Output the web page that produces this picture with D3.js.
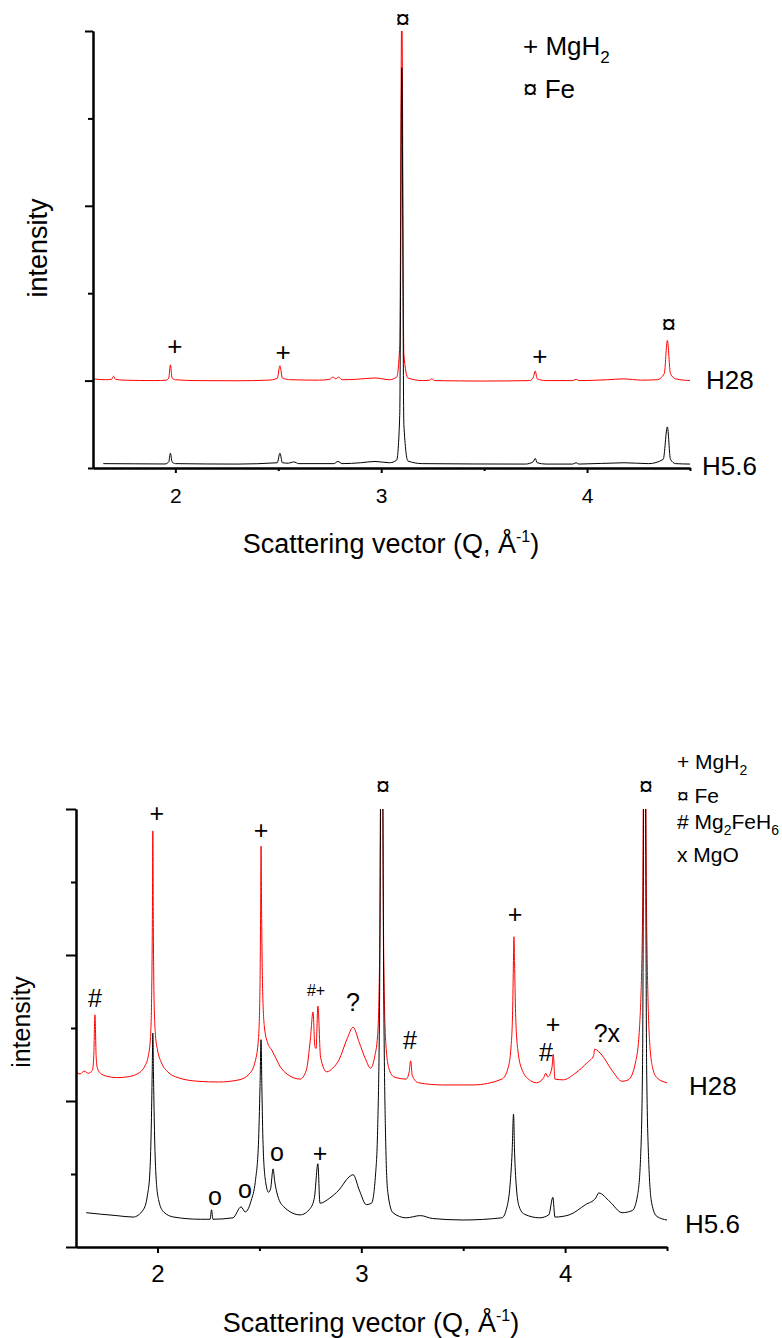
<!DOCTYPE html>
<html>
<head>
<meta charset="utf-8">
<script src="https://cdn.jsdelivr.net/npm/d3@7"></script>
<style>
  body { margin: 0; background: #fff; }
  svg { display: block; font-family: "Liberation Sans", Arial, sans-serif; }
</style>
</head>
<body>
<svg width="782" height="1338"></svg>
<script>
// ---- data: [Q (1/Å), intensity (offset, arb. units)] ----
const h28Top = [
  [1.60,1.02],[1.66,1.01],[1.69,1.015],[1.70,1.05],[1.71,1.015],[1.75,1.005],[1.90,1.0],
  [1.955,1.005],[1.968,1.03],[1.976,1.18],[1.984,1.03],[2.00,1.01],[2.10,1.0],[2.30,0.998],
  [2.45,1.005],[2.495,1.025],[2.508,1.17],[2.52,1.03],[2.56,1.01],[2.70,1.005],[2.75,1.015],
  [2.765,1.04],[2.78,1.02],[2.793,1.04],[2.81,1.01],[2.88,1.015],[2.97,1.03],[3.04,1.01],
  [3.075,1.04],[3.09,1.4],[3.10,5.3],[3.11,1.3],[3.13,1.03],[3.20,1.0],[3.235,1.005],
  [3.245,1.02],[3.26,1.0],[3.50,0.995],[3.72,1.0],[3.738,1.03],[3.748,1.11],[3.758,1.02],
  [3.80,1.0],[3.93,1.0],[3.947,1.015],[3.96,1.0],[4.10,1.01],[4.18,1.02],[4.26,1.005],
  [4.34,1.01],[4.375,1.08],[4.39,1.46],[4.405,1.08],[4.43,1.02],[4.50,1.0]
];
const h56Top = [
  [1.65,0.05],[1.80,0.048],[1.95,0.046],[1.968,0.07],[1.976,0.17],[1.984,0.07],[2.00,0.05],
  [2.30,0.045],[2.495,0.06],[2.508,0.17],[2.52,0.06],[2.55,0.055],[2.575,0.07],[2.60,0.05],
  [2.77,0.05],[2.79,0.075],[2.81,0.05],[2.90,0.06],[2.97,0.075],[3.04,0.06],[3.075,0.09],
  [3.09,0.6],[3.10,4.58],[3.11,0.5],[3.13,0.08],[3.20,0.05],[3.70,0.045],[3.738,0.07],
  [3.748,0.11],[3.758,0.06],[3.80,0.045],[3.93,0.045],[3.947,0.06],[3.96,0.045],[4.18,0.06],
  [4.30,0.05],[4.37,0.1],[4.39,0.47],[4.405,0.1],[4.43,0.05],[4.50,0.045]
];
const h28Bottom = [
  [1.60,2.40],[1.62,2.37],[1.64,2.41],[1.66,2.38],[1.68,2.42],[1.687,2.6],[1.693,3.18],
  [1.699,2.6],[1.705,2.45],[1.72,2.38],[1.75,2.34],[1.80,2.32],[1.85,2.33],[1.90,2.37],
  [1.94,2.49],[1.955,2.62],[1.965,2.85],[1.971,3.4],[1.975,4.6],[1.977,5.70],[1.979,4.6],
  [1.983,3.4],[1.99,2.9],[2.00,2.7],[2.02,2.52],[2.05,2.40],[2.10,2.32],[2.20,2.27],
  [2.30,2.26],[2.40,2.29],[2.45,2.37],[2.48,2.55],[2.495,2.85],[2.502,3.4],[2.506,4.6],
  [2.508,5.49],[2.511,4.5],[2.516,3.5],[2.525,3.0],[2.54,2.80],[2.56,2.70],[2.575,2.62],
  [2.60,2.48],[2.64,2.36],[2.70,2.30],[2.73,2.42],[2.75,2.85],[2.763,3.22],[2.772,2.75],
  [2.778,2.72],[2.787,3.30],[2.80,2.60],[2.83,2.40],[2.86,2.45],[2.89,2.56],[2.93,2.85],
  [2.96,3.01],[2.99,2.80],[3.02,2.58],[3.045,2.45],[3.065,2.6],[3.08,2.9],[3.09,4.0],
  [3.10,9.0],[3.11,4.0],[3.12,2.8],[3.135,2.45],[3.16,2.33],[3.22,2.30],[3.235,2.40],
  [3.242,2.55],[3.25,2.35],[3.28,2.25],[3.40,2.22],[3.55,2.22],[3.69,2.30],[3.72,2.45],
  [3.735,2.75],[3.743,3.3],[3.747,4.0],[3.749,4.25],[3.752,3.9],[3.757,3.2],[3.768,2.7],
  [3.79,2.42],[3.83,2.28],[3.86,2.25],[3.895,2.32],[3.905,2.38],[3.915,2.33],[3.935,2.45],
  [3.942,2.64],[3.95,2.30],[3.99,2.29],[4.05,2.38],[4.11,2.53],[4.14,2.62],[4.145,2.71],
  [4.18,2.63],[4.23,2.42],[4.28,2.27],[4.31,2.29],[4.345,2.52],[4.365,3.0],[4.38,4.5],
  [4.39,9.0],[4.40,4.5],[4.415,2.8],[4.43,2.45],[4.45,2.32],[4.50,2.25]
];
const h56Bottom = [
  [1.65,0.47],[1.72,0.45],[1.80,0.43],[1.88,0.41],[1.93,0.51],[1.95,0.70],[1.962,1.0],
  [1.969,1.6],[1.974,2.4],[1.977,2.93],[1.980,2.4],[1.985,1.6],[1.992,1.0],[2.005,0.65],
  [2.03,0.48],[2.08,0.41],[2.21,0.38],[2.258,0.38],[2.265,0.51],[2.272,0.38],[2.37,0.40],
  [2.41,0.55],[2.43,0.48],[2.46,0.64],[2.48,0.9],[2.495,1.4],[2.503,2.2],[2.508,2.84],
  [2.512,2.2],[2.518,1.4],[2.53,0.9],[2.545,0.75],[2.555,0.80],[2.567,1.07],[2.575,0.9],
  [2.59,0.70],[2.62,0.55],[2.70,0.44],[2.75,0.53],[2.77,0.68],[2.787,1.14],[2.797,0.60],
  [2.845,0.67],[2.89,0.78],[2.94,0.96],[2.96,0.99],[2.99,0.78],[3.025,0.58],[3.05,0.60],
  [3.07,1.0],[3.08,1.6],[3.09,3.5],[3.10,9.0],[3.11,3.5],[3.12,1.4],[3.13,0.75],[3.155,0.47],
  [3.22,0.40],[3.29,0.43],[3.35,0.39],[3.50,0.37],[3.69,0.40],[3.715,0.55],[3.73,0.85],
  [3.74,1.3],[3.747,1.82],[3.752,1.3],[3.76,0.85],[3.775,0.55],[3.80,0.45],[3.875,0.40],
  [3.92,0.44],[3.94,0.68],[3.95,0.41],[4.02,0.44],[4.10,0.58],[4.15,0.67],[4.165,0.74],
  [4.22,0.62],[4.28,0.47],[4.33,0.50],[4.355,0.7],[4.37,1.2],[4.38,2.5],[4.39,9.0],
  [4.40,2.5],[4.41,1.2],[4.425,0.6],[4.45,0.42],[4.50,0.37]
];

const qDomain = [1.6, 4.5];
const qMajor = [2, 3, 4];
const qMinor = [2.5, 3.5, 4.5];
const topYDomain = [0, 5];
const topYMajor = [1, 3, 5];
const topYMinor = [0, 2, 4];
const botYDomain = [0, 6];
const botYMajor = [0, 2, 4, 6];
const botYMinor = [1, 3, 5];

// peak marks: [text, Q, intensity]
const topMarks = [["¤",3.105,5.14],["+",1.998,1.40],["+",2.523,1.33],["+",3.771,1.28],["¤",4.397,1.65]];
const botMarks = [
  ["#",1.693,3.41],["+",1.997,5.95],["+",2.508,5.71],["?",2.959,3.36],["¤",3.106,6.32],
  ["#",3.239,2.84],["+",3.754,4.56],["#",3.906,2.67],["+",3.941,3.05],["?x",4.205,2.93],
  ["¤",4.397,6.32],["o",2.282,0.67],["o",2.429,0.77],["o",2.586,1.27],["+",2.797,1.29]
];
const botSmallMarks = [["#+",2.778,3.52]];

const topLegend = [["+ MgH", "2", ""], ["¤ Fe", "", ""]];
const botLegend = [["+ MgH", "2", ""], ["¤ Fe", "", ""], ["# Mg", "2", "FeH", "6"], ["x MgO", "", ""]];

const svg = d3.select("svg");

function panel(o) {
  const x = d3.scaleLinear().domain(qDomain).range([o.left, o.right]);
  const y = d3.scaleLinear().domain(o.yDomain).range([o.bottom, o.top]);
  const g = svg.append("g");

  g.append("clipPath").attr("id", o.id)
    .append("rect")
    .attr("x", o.left).attr("y", o.top)
    .attr("width", o.right - o.left).attr("height", o.bottom - o.top);

  const line = d3.line().x(d => x(d[0])).y(d => y(d[1])).curve(d3.curveMonotoneX);
  o.series.forEach(s => {
    g.append("path")
      .datum(s.data)
      .attr("clip-path", `url(#${o.id})`)
      .attr("fill", "none")
      .attr("stroke", s.color)
      .attr("stroke-width", 1)
      .attr("d", line);
  });

  // axes
  const ax = (axis, tr) => {
    const a = g.append("g").attr("transform", tr).call(axis);
    a.selectAll("path,line").attr("stroke", "#000").attr("stroke-width", 2);
    return a;
  };
  ax(d3.axisLeft(y).tickValues(o.yMajor).tickSize(o.yMajorLen).tickSizeOuter(0).tickFormat(""),
     `translate(${o.left},0)`);
  ax(d3.axisLeft(y).tickValues(o.yMinor).tickSize(5).tickSizeOuter(0).tickFormat(""),
     `translate(${o.left},0)`);
  ax(d3.axisBottom(x).tickValues(qMinor).tickSize(o.xMinorLen).tickSizeOuter(0).tickFormat(""),
     `translate(0,${o.bottom})`);
  const xa = ax(d3.axisBottom(x).tickValues(qMajor).tickSize(o.xMajorLen).tickSizeOuter(0)
     .tickFormat(d3.format("d")), `translate(0,${o.bottom})`);
  xa.selectAll("text").attr("y", o.tickLabelDy).attr("dy", 0)
    .attr("fill", "#000").style("font-size", o.tickFont + "px").style("font-family", "inherit");

  // axis titles
  g.append("text")
    .attr("transform", `translate(${o.yTitleX},${o.yTitleY}) rotate(-90)`)
    .attr("text-anchor", "middle").style("font-size", o.yTitleFont + "px")
    .text("intensity");
  const xt = g.append("text")
    .attr("x", o.xTitleX).attr("y", o.xTitleY)
    .attr("text-anchor", "middle").style("font-size", "27px");
  xt.append("tspan").text("Scattering vector (Q, Å");
  xt.append("tspan").attr("dy", -11).style("font-size", "16px").text("-1");
  xt.append("tspan").attr("dy", 11).text(")");

  // peak marks
  o.marks.forEach(m => {
    g.append("text").attr("x", x(m[1])).attr("y", y(m[2])).attr("dy", m[0] === "o" ? "0.27em" : "0.36em")
      .attr("text-anchor", "middle").style("font-size", o.markFont + "px").text(m[0]);
  });
  (o.smallMarks || []).forEach(m => {
    g.append("text").attr("x", x(m[1])).attr("y", y(m[2])).attr("dy", "0.36em")
      .attr("text-anchor", "middle").style("font-size", "16px").text(m[0]);
  });

  // sample names
  o.names.forEach(n => {
    g.append("text").attr("x", n[1]).attr("y", n[2]).style("font-size", o.nameFont + "px").text(n[0]);
  });

  // legend
  o.legend.forEach((l, i) => {
    const t = g.append("text").attr("x", o.legendX).attr("y", o.legendY[i])
      .style("font-size", o.legendFont + "px");
    t.append("tspan").text(l[0]);
    if (l[1]) t.append("tspan").attr("dy", o.subDy).style("font-size", o.subFont + "px").text(l[1]);
    if (l[2]) t.append("tspan").attr("dy", -o.subDy).text(l[2]);
    if (l[3]) t.append("tspan").attr("dy", o.subDy).style("font-size", o.subFont + "px").text(l[3]);
  });
}

panel({
  id: "clipTop", left: 93, right: 690, top: 31, bottom: 468,
  yDomain: topYDomain, yMajor: topYMajor, yMinor: topYMinor, yMajorLen: 8,
  xMajorLen: 5, xMinorLen: 3, tickLabelDy: 35, tickFont: 21,
  series: [{ data: h28Top, color: "#ff0000" }, { data: h56Top, color: "#000" }],
  yTitleX: 47, yTitleY: 248, yTitleFont: 27, xTitleX: 391, xTitleY: 553,
  marks: topMarks, markFont: 26,
  names: [["H28", 706, 389], ["H5.6", 702, 475]], nameFont: 26,
  legend: topLegend, legendX: 523, legendY: [55, 98], legendFont: 26, subFont: 17, subDy: 8
});

panel({
  id: "clipBot", left: 76, right: 667, top: 809, bottom: 1247,
  yDomain: botYDomain, yMajor: botYMajor, yMinor: botYMinor, yMajorLen: 10,
  xMajorLen: 6, xMinorLen: 4, tickLabelDy: 35, tickFont: 24,
  series: [{ data: h28Bottom, color: "#ff0000" }, { data: h56Bottom, color: "#000" }],
  yTitleX: 30, yTitleY: 1022, yTitleFont: 25, xTitleX: 371, xTitleY: 1332,
  marks: botMarks, smallMarks: botSmallMarks, markFont: 25,
  names: [["H28", 689, 1095], ["H5.6", 685, 1233]], nameFont: 26,
  legend: botLegend, legendX: 677, legendY: [769, 803, 829, 862], legendFont: 21, subFont: 14, subDy: 6
});
</script>
</body>
</html>
